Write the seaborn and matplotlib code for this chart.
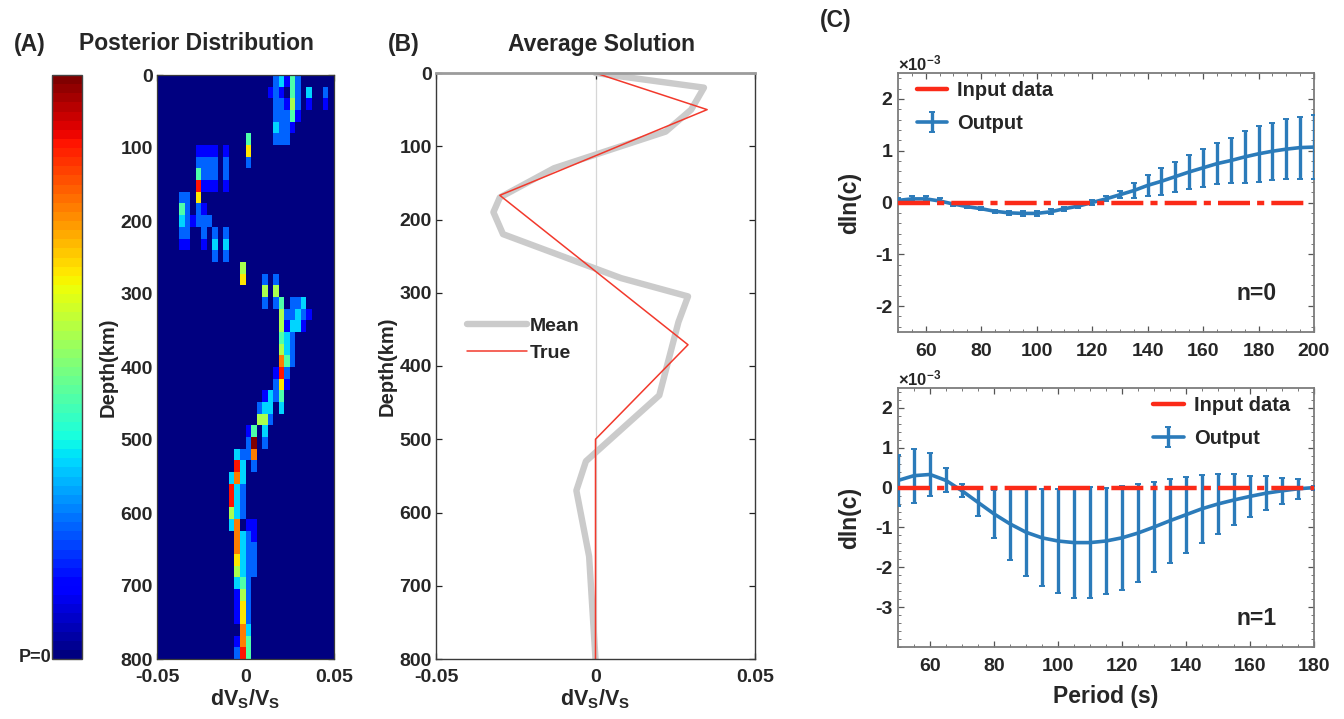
import matplotlib
matplotlib.use("Agg")
import matplotlib.pyplot as plt
from matplotlib.lines import Line2D
from matplotlib.container import ErrorbarContainer
from matplotlib.ticker import MultipleLocator
import numpy as np
import pandas as pd
import seaborn as sns

# ---------------- (A) posterior distribution of dVs/Vs with depth ----------------
depth_bin_km = 16          # 50 depth bins, 0-800 km
dv_min, dv_max = -0.05, 0.05
dv_bins = 32
# probability level (0-9) per depth bin, 32 dVs/Vs bins per row (groups of 8)
posterior_rows = [
    "00000000 00000000 00000231 42000000",
    "00000000 00000000 00001210 42030020",
    "00000000 00000000 00000221 52010010",
    "00000000 00000000 00000222 41000000",
    "00000000 00000000 00000322 10000000",
    "00000000 00000000 40000222 00000000",
    "00000001 11101000 60000000 00000000",
    "00000002 22202000 20000000 00000000",
    "00000004 22202000 00000000 00000000",
    "00000008 11101000 00000000 00000000",
    "00002206 00000000 00000000 00000000",
    "00004202 10000000 00000000 00000000",
    "00003212 22000000 00000000 00000000",
    "00002200 20202000 00000000 00000000",
    "00001100 10303000 00000000 00000000",
    "00000000 00202000 00000000 00000000",
    "00000000 00000005 00000000 00000000",
    "00000000 00000006 00020200 00000000",
    "00000000 00000000 00050500 00000000",
    "00000000 00000000 00020240 22300000",
    "00000000 00000000 00000052 23210000",
    "00000000 00000000 00000051 33100000",
    "00000000 00000000 00000043 20000000",
    "00000000 00000000 00000053 20000000",
    "00000000 00000000 00000074 20000000",
    "00000000 00000000 00000182 00000000",
    "00000000 00000000 00000261 00000000",
    "00000000 00000000 00013240 00000000",
    "00000000 00000000 00233030 00000000",
    "00000000 00000000 00552000 00000000",
    "00000000 00000000 14030000 00000000",
    "00000000 00000000 29020000 00000000",
    "00000000 00000032 27000000 00000000",
    "00000000 00000083 02000000 00000000",
    "00000000 00000373 00000000 00000000",
    "00000000 00000832 00000000 00000000",
    "00000000 00000832 00000000 00000000",
    "00000000 00000532 00000000 00000000",
    "00000000 00000370 11000000 00000000",
    "00000000 00000073 21000000 00000000",
    "00000000 00000073 22000000 00000000",
    "00000000 00000063 22000000 00000000",
    "00000000 00000053 22000000 00000000",
    "00000000 00000034 20000000 00000000",
    "00000000 00000015 20000000 00000000",
    "00000000 00000016 20000000 00000000",
    "00000000 00000016 20000000 00000000",
    "00000000 00000007 30000000 00000000",
    "00000000 00000017 40000000 00000000",
    "00000000 00000028 40000000 00000000",
]

# ---------------- (B) average solution ----------------
mean_depth = [0, 20, 50, 80, 130, 170, 190, 220, 280, 305, 340, 440, 530, 570, 660, 800]
mean_dv = [0.0, 0.034, 0.030, 0.022, -0.013, -0.030, -0.032, -0.029, 0.008,
           0.029, 0.026, 0.020, -0.003, -0.006, -0.002, 0.0]
true_depth = [0, 50, 167, 371, 500, 800]
true_dv = [0.0, 0.035, -0.030, 0.029, 0.0, 0.0]

# ---------------- (C) phase-velocity perturbations (x1e-3) ----------------
period_n0 = [50, 55, 60, 65, 70, 75, 80, 85, 90, 95, 100, 105, 110, 115, 120, 125,
             130, 135, 140, 145, 150, 155, 160, 165, 170, 175, 180, 185, 190, 195, 200]
dlnc_n0 = [0.04, 0.07, 0.07, 0.03, -0.03, -0.08, -0.12, -0.17, -0.20, -0.21, -0.21,
           -0.18, -0.12, -0.07, 0.00, 0.07, 0.15, 0.23, 0.33, 0.41, 0.50, 0.59, 0.67,
           0.75, 0.81, 0.88, 0.94, 0.99, 1.03, 1.06, 1.07]
err_n0 = [0.05, 0.05, 0.05, 0.05, 0.03, 0.03, 0.03, 0.03, 0.04, 0.05, 0.05, 0.05,
          0.04, 0.04, 0.04, 0.05, 0.07, 0.14, 0.20, 0.26, 0.29, 0.32, 0.37, 0.40,
          0.44, 0.50, 0.54, 0.55, 0.58, 0.60, 0.61]
input_period_n0 = [50, 198]
input_dlnc_n0 = [0.0, 0.0]

period_n1 = [50, 55, 60, 65, 70, 75, 80, 85, 90, 95, 100, 105, 110, 115, 120, 125,
             130, 135, 140, 145, 150, 155, 160, 165, 170, 175, 180]
dlnc_n1 = [0.18, 0.30, 0.33, 0.18, -0.08, -0.37, -0.66, -0.91, -1.12, -1.26, -1.34,
           -1.38, -1.38, -1.34, -1.26, -1.14, -0.99, -0.83, -0.68, -0.53, -0.41,
           -0.31, -0.22, -0.14, -0.08, -0.03, 0.00]
err_n1 = [0.63, 0.68, 0.53, 0.30, 0.16, 0.33, 0.60, 0.90, 1.10, 1.22, 1.30, 1.40,
          1.40, 1.33, 1.30, 1.22, 1.12, 1.05, 0.95, 0.85, 0.75, 0.64, 0.52, 0.43,
          0.33, 0.25, 0.05]
input_period_n1 = [50, 180]
input_dlnc_n1 = [0.0, 0.0]

depth_ticks = [0, 100, 200, 300, 400, 500, 600, 700, 800]
dv_ticks = [-0.05, 0.0, 0.05]
dv_ticklabels = ["-0.05", "0", "0.05"]

# ---------------- style ----------------
sns.set_style("ticks")
plt.rcParams.update({
    "font.family": ["Liberation Sans", "DejaVu Sans"],
    "font.weight": "bold",
    "axes.labelweight": "bold",
    "mathtext.fontset": "custom",
    "mathtext.rm": "Liberation Sans:bold",
    "mathtext.bf": "Liberation Sans:bold",
    "mathtext.it": "Liberation Sans:bold",
    "mathtext.default": "bf",
    "xtick.direction": "in",
    "ytick.direction": "in",
    "axes.linewidth": 1.0,
})

W, H = 1344, 719
fig = plt.figure(figsize=(W / 100, H / 100), dpi=100)


def box(x0, y0, x1, y1):
    return [x0 / W, 1 - y1 / H, (x1 - x0) / W, (y1 - y0) / H]


TICK_FS = 14
LABEL_FS = 14.5
TITLE_FS = 16.5
PANEL_FS = 16.5
BLUE = "#2b7bba"
RED_IN = "#fb2a18"
FRAME = "#3a3a3a"

# ---------------- panel A ----------------
axA = fig.add_axes(box(157, 75, 334, 659))
cax = fig.add_axes(box(52, 75, 82, 659))
grid = np.array([[int(c) for c in row.replace(" ", "")] for row in posterior_rows], dtype=float)
dv_width = (dv_max - dv_min) / dv_bins
post_df = pd.DataFrame(grid)
jet64 = plt.get_cmap("jet", 64)
sns.heatmap(post_df, ax=axA, cmap=jet64, vmin=0, vmax=9, cbar_ax=cax,
            xticklabels=False, yticklabels=False)
axA.set_xticks([(v - dv_min) / dv_width for v in dv_ticks])
axA.set_xticklabels(dv_ticklabels)
axA.set_yticks([d / depth_bin_km for d in depth_ticks])
axA.set_yticklabels([str(d) for d in depth_ticks])
for s in axA.spines.values():
    s.set_visible(True)
    s.set_color(FRAME)
    s.set_linewidth(0.9)
axA.tick_params(axis="both", direction="in", length=4, width=0.9, color="#222222",
                labelsize=TICK_FS, top=True, right=True, pad=3)
axA.tick_params(axis="x", pad=7)
for lab in axA.get_xticklabels() + axA.get_yticklabels():
    lab.set_rotation(0)
    lab.set_fontweight("bold")
axA.set_xlabel("dV$_S$/V$_S$", fontsize=LABEL_FS + 1, labelpad=1)
axA.set_ylabel("Depth(km)", fontsize=LABEL_FS, labelpad=2)
cbar = axA.collections[0].colorbar
cbar.set_ticks([])
cbar.outline.set_edgecolor("#444444")
cbar.outline.set_linewidth(1.0)
fig.text(35 / W, 1 - 657 / H, "P=0", fontsize=13, fontweight="bold", ha="center", va="center")
fig.text(14 / W, 1 - 45 / H, "(A)", fontsize=PANEL_FS, fontweight="bold", ha="left", va="center")
fig.text(196 / W, 1 - 44 / H, "Posterior Distribution", fontsize=TITLE_FS, fontweight="bold",
         ha="center", va="center")

# ---------------- panel B ----------------
axB = fig.add_axes(box(436, 73, 755, 659))
axB.axvline(0, color="#d6d6d6", lw=0.9, zorder=0)
sns.lineplot(x=mean_dv, y=mean_depth, sort=False, estimator=None, ax=axB,
             color="#cbcbcb", lw=4.6, label="Mean")
sns.lineplot(x=true_dv, y=true_depth, sort=False, estimator=None, ax=axB,
             color="#f2392c", lw=1.1, label="True")
axB.set_xlim(dv_min, dv_max)
axB.set_ylim(800, 0)
axB.set_xticks(dv_ticks)
axB.set_xticklabels(dv_ticklabels)
axB.set_yticks(depth_ticks)
axB.set_yticklabels([str(d) for d in depth_ticks])
axB.tick_params(axis="both", direction="in", length=4, width=0.9, color="#222222",
                labelsize=TICK_FS, top=True, right=True, pad=3)
axB.tick_params(axis="x", pad=7)
for s in axB.spines.values():
    s.set_color(FRAME)
    s.set_linewidth(1.0)
axB.spines["top"].set_color("#9c9c9c")
axB.spines["top"].set_linewidth(2.0)
axB.set_xlabel("dV$_S$/V$_S$", fontsize=LABEL_FS + 1, labelpad=1)
axB.set_ylabel("Depth(km)", fontsize=LABEL_FS, labelpad=2)
axB.legend(loc="center left", bbox_to_anchor=(0.066, 0.545), frameon=False,
           handlelength=3.1, handletextpad=0.12, labelspacing=0.45, borderpad=0,
           fontsize=14)
fig.text(388 / W, 1 - 45 / H, "(B)", fontsize=PANEL_FS, fontweight="bold", ha="left", va="center")
fig.text(601 / W, 1 - 44 / H, "Average Solution", fontsize=TITLE_FS, fontweight="bold",
         ha="center", va="center")

# ---------------- panel C ----------------
fig.text(820 / W, 1 - 20 / H, "(C)", fontsize=PANEL_FS, fontweight="bold", ha="left", va="center")
dashdot = (0, (7.2, 1.6, 1.6, 1.6))


def dispersion_panel(ax, periods, vals, errs, in_p, in_v, xmax, ylo, yhi, yticks,
                     mode_text, mode_y, legend_loc, legend_anchor, show_xlabel):
    sns.lineplot(x=periods, y=vals, ax=ax, color=BLUE, lw=2.6, sort=False,
                 estimator=None, zorder=3)
    eb = ax.errorbar(periods, vals, yerr=errs, fmt="none", ecolor=BLUE,
                     elinewidth=2.4, capsize=2.5, capthick=1.4, zorder=3)
    sns.lineplot(x=in_p, y=in_v, ax=ax, color=RED_IN, lw=3.2, linestyle=dashdot,
                 sort=False, estimator=None, zorder=4)
    ax.set_xlim(50, xmax)
    ax.set_ylim(ylo, yhi)
    ax.set_yticks(yticks)
    ax.set_yticklabels([str(t) for t in yticks])
    ax.set_xticks(list(range(60, xmax + 1, 20)))
    ax.xaxis.set_minor_locator(MultipleLocator(5))
    ax.yaxis.set_minor_locator(MultipleLocator(0.2))
    ax.tick_params(axis="both", which="major", direction="in", length=4, width=0.9,
                   color="#555555", labelsize=TICK_FS, top=True, right=True, pad=4)
    ax.tick_params(axis="x", which="major", pad=8)
    ax.tick_params(axis="both", which="minor", direction="in", length=2, width=0.7,
                   color="#777777", top=True, right=True)
    for s in ax.spines.values():
        s.set_color("#7c7c7c")
        s.set_linewidth(1.3)
    ax.set_ylabel("dln(c)", fontsize=16.5, labelpad=10)
    if show_xlabel:
        ax.set_xlabel("Period (s)", fontsize=16.5, labelpad=7)
    ax.text(0.0, 1.0, r"$\times$10$^{-3}$", transform=ax.transAxes, fontsize=12,
            ha="left", va="bottom")
    ax.text(0.863, mode_y, mode_text, transform=ax.transAxes, fontsize=16.5,
            fontweight="bold", ha="center", va="center")
    h_in = Line2D([], [], color=RED_IN, lw=3.2)
    h_out = ErrorbarContainer((Line2D([], [], color=BLUE, lw=2.6), eb.lines[1], eb.lines[2]),
                              has_xerr=False, has_yerr=True)
    ax.legend([h_in, h_out], ["Input data", "Output"], loc=legend_loc,
              bbox_to_anchor=legend_anchor, frameon=False, fontsize=14.5,
              handlelength=1.5, handletextpad=0.5, labelspacing=0.7, borderpad=0)


axC1 = fig.add_axes(box(898, 73, 1314, 332))
dispersion_panel(axC1, period_n0, dlnc_n0, err_n0, input_period_n0, input_dlnc_n0,
                 200, -2.5, 2.5, [-2, -1, 0, 1, 2], "n=0", 0.15, "upper left",
                 (0.022, 1.007), False)

axC2 = fig.add_axes(box(898, 388, 1314, 647))
dispersion_panel(axC2, period_n1, dlnc_n1, err_n1, input_period_n1, input_dlnc_n1,
                 180, -4, 2.5, [-3, -2, -1, 0, 1, 2], "n=1", 0.11, "upper right",
                 (0.966, 1.007), True)

fig.savefig("out.png", dpi=100)
